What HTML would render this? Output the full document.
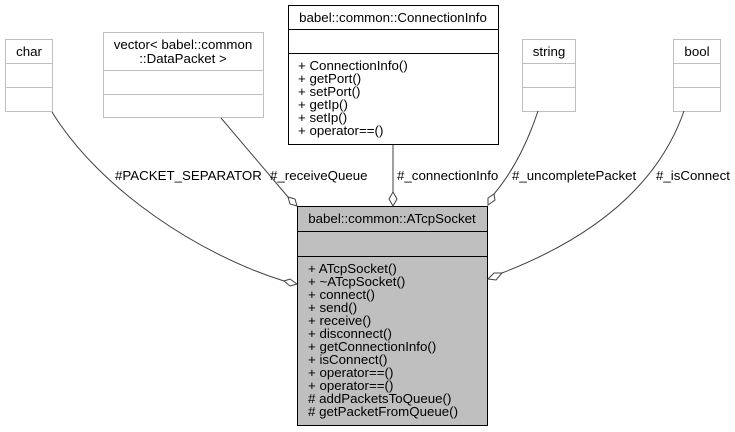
<!DOCTYPE html>
<html><head><style>body{margin:0;background:#fff}svg{display:block}text{font-family:"Liberation Sans",Arial,sans-serif;font-size:13.3px;fill:#000}</style></head>
<body>
<svg width="735" height="432" viewBox="0 0 735 432" xmlns="http://www.w3.org/2000/svg">
<!-- char -->
<g stroke="#bfbfbf" fill="#fff"><rect x="5.5" y="39.5" width="47" height="72"/><line x1="5.5" y1="63.5" x2="52.5" y2="63.5"/><line x1="5.5" y1="87.5" x2="52.5" y2="87.5"/></g>
<text x="29" y="56" text-anchor="middle">char</text>
<!-- vector -->
<g stroke="#bfbfbf" fill="#fff"><rect x="103.5" y="32.5" width="160" height="85"/><line x1="103.5" y1="70.5" x2="263.5" y2="70.5"/><line x1="103.5" y1="94.5" x2="263.5" y2="94.5"/></g>
<text x="183" y="49" text-anchor="middle">vector&lt; babel::common</text>
<text x="183" y="63" text-anchor="middle">::DataPacket &gt;</text>
<!-- ConnectionInfo -->
<g stroke="#000" fill="#fff"><rect x="288.5" y="5.5" width="210" height="139"/><line x1="288.5" y1="29.5" x2="498.5" y2="29.5"/><line x1="288.5" y1="53.5" x2="498.5" y2="53.5"/></g>
<text x="393" y="22" text-anchor="middle">babel::common::ConnectionInfo</text>
<text x="298" y="70">+ ConnectionInfo()</text>
<text x="298" y="83">+ getPort()</text>
<text x="298" y="96">+ setPort()</text>
<text x="298" y="109">+ getIp()</text>
<text x="298" y="122">+ setIp()</text>
<text x="298" y="135">+ operator==()</text>
<!-- string -->
<g stroke="#bfbfbf" fill="#fff"><rect x="522.5" y="39.5" width="53" height="72"/><line x1="522.5" y1="63.5" x2="575.5" y2="63.5"/><line x1="522.5" y1="87.5" x2="575.5" y2="87.5"/></g>
<text x="549" y="56" text-anchor="middle">string</text>
<!-- bool -->
<g stroke="#bfbfbf" fill="#fff"><rect x="673.5" y="39.5" width="47" height="72"/><line x1="673.5" y1="63.5" x2="720.5" y2="63.5"/><line x1="673.5" y1="87.5" x2="720.5" y2="87.5"/></g>
<text x="697" y="56" text-anchor="middle">bool</text>
<!-- main -->
<g stroke="#000" fill="#bfbfbf"><rect x="297.5" y="206.5" width="190" height="219"/><line x1="297.5" y1="231.5" x2="487.5" y2="231.5"/><line x1="297.5" y1="256.5" x2="487.5" y2="256.5"/></g>
<text x="392" y="223" text-anchor="middle">babel::common::ATcpSocket</text>
<g>
<text x="308" y="273">+ ATcpSocket()</text>
<text x="308" y="286">+ ~ATcpSocket()</text>
<text x="308" y="299">+ connect()</text>
<text x="308" y="312">+ send()</text>
<text x="308" y="325">+ receive()</text>
<text x="308" y="338">+ disconnect()</text>
<text x="308" y="351">+ getConnectionInfo()</text>
<text x="308" y="364">+ isConnect()</text>
<text x="308" y="377">+ operator==()</text>
<text x="308" y="390">+ operator==()</text>
<text x="308" y="403"># addPacketsToQueue()</text>
<text x="308" y="416"># getPacketFromQueue()</text>
</g>
<!-- connectors -->
<g stroke="#404040" fill="none" stroke-width="1">
<path d="M52,112 C100,190 200,255 284,281"/>
<path d="M221,118 L288,197"/>
<path d="M393,145 L393,192"/>
<path d="M538,111 C525,150 510,175 494,194"/>
<path d="M684,111 C660,180 600,235 502,273"/>
</g>
<g stroke="#404040" fill="#fff">
<polygon points="297,284 290,279 284,281 290,286"/>
<polygon points="297,206 295,199 288,197 290,204"/>
<polygon points="393,206 397,199 393,192 389,199"/>
<polygon points="488,205 495,200 494,194 488,198"/>
<polygon points="488,279 494,273 502,273 496,280"/>
</g>
<text x="115" y="180">#PACKET_SEPARATOR</text>
<text x="270" y="180">#_receiveQueue</text>
<text x="397" y="180">#_connectionInfo</text>
<text x="512" y="180">#_uncompletePacket</text>
<text x="656" y="180">#_isConnect</text>
</svg>
</body></html>
